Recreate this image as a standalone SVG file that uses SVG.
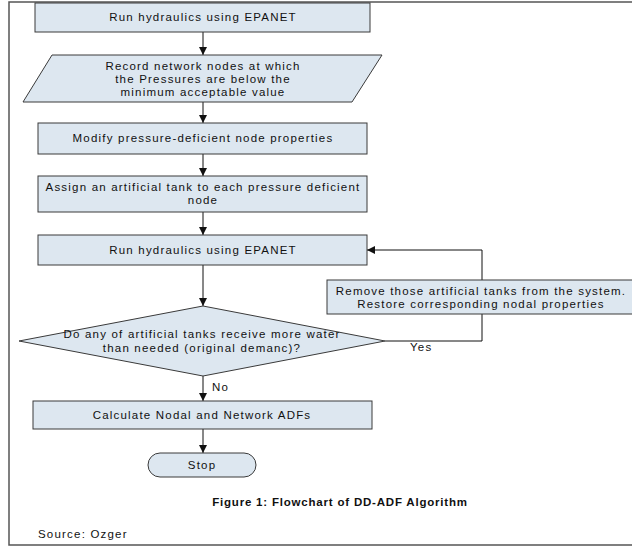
<svg xmlns="http://www.w3.org/2000/svg" width="632" height="548" viewBox="0 0 632 548">
<style>
.n{fill:#dde7f0;stroke:#3a3a3a;stroke-width:1}
.t{font-family:"Liberation Sans",Arial,sans-serif;font-size:11.5px;letter-spacing:1.2px;fill:#111;text-anchor:middle}
.l{font-family:"Liberation Sans",Arial,sans-serif;font-size:11.5px;letter-spacing:1.2px;fill:#111}
.c{fill:none;stroke:#111;stroke-width:1}
</style>
<defs>
<marker id="ah" markerWidth="8" markerHeight="8" refX="8" refY="4" orient="auto" markerUnits="userSpaceOnUse">
<path d="M0,0 L8,4 L0,8 Z" fill="#111"/>
</marker>
</defs>
<rect x="9" y="2" width="640" height="543" fill="#fff" stroke="#555" stroke-width="1.5"/>
<g id="connectors">
<line class="c" x1="203" y1="32" x2="203" y2="55" marker-end="url(#ah)"/>
<line class="c" x1="203" y1="102" x2="203" y2="123" marker-end="url(#ah)"/>
<line class="c" x1="203" y1="154" x2="203" y2="176" marker-end="url(#ah)"/>
<line class="c" x1="203" y1="212" x2="203" y2="235" marker-end="url(#ah)"/>
<line class="c" x1="203" y1="265" x2="203" y2="306" marker-end="url(#ah)"/>
<polyline class="c" points="385,341 482,341 482,250 367,250" marker-end="url(#ah)"/>
<line class="c" x1="203" y1="376" x2="203" y2="401" marker-end="url(#ah)"/>
<line class="c" x1="203" y1="429" x2="203" y2="453" marker-end="url(#ah)"/>
<text class="l" x="410" y="351">Yes</text>
<text class="l" x="212" y="391">No</text>
</g>
<g id="run1">
<rect class="n" x="35" y="3" width="335" height="29"/>
<text class="t" x="203" y="21">Run hydraulics using EPANET</text>
</g>
<g id="record">
<polygon class="n" points="52,55 382,55 352,102 23,102"/>
<text class="t" x="203" y="69.5">Record network nodes at which</text>
<text class="t" x="203" y="82.8">the Pressures are below the</text>
<text class="t" x="203" y="96.1">minimum acceptable value</text>
</g>
<g id="modify">
<rect class="n" x="38" y="123" width="329" height="31"/>
<text class="t" x="203" y="142">Modify pressure-deficient node properties</text>
</g>
<g id="assign">
<rect class="n" x="38" y="176" width="329" height="36"/>
<text class="t" x="203" y="190.5">Assign an artificial tank to each pressure deficient</text>
<text class="t" x="203" y="203.8">node</text>
</g>
<g id="run2">
<rect class="n" x="38" y="235" width="329" height="30"/>
<text class="t" x="203" y="253.5">Run hydraulics using EPANET</text>
</g>
<g id="decision">
<polygon class="n" points="203,306 385,341 203,376 19,341"/>
<text class="t" x="202" y="337.5">Do any of artificial tanks receive more water</text>
<text class="t" x="202" y="351.5">than needed (original demanc)?</text>
</g>
<g id="remove">
<rect class="n" x="327" y="280" width="310" height="34"/>
<text class="t" x="481" y="294.5">Remove those artificial tanks from the system.</text>
<text class="t" x="481" y="307.8">Restore corresponding nodal properties</text>
</g>
<g id="calc">
<rect class="n" x="33" y="401" width="339" height="28"/>
<text class="t" x="202" y="419">Calculate Nodal and Network ADFs</text>
</g>
<g id="stop">
<rect class="n" x="148" y="453" width="108" height="24" rx="12" ry="12"/>
<text class="t" x="202" y="469">Stop</text>
</g>
<text x="340" y="506" style="font-family:'Liberation Sans',Arial,sans-serif;font-size:11.5px;font-weight:bold;letter-spacing:0.8px;fill:#111;text-anchor:middle">Figure 1: Flowchart of DD-ADF Algorithm</text>
<text class="l" x="38" y="538">Source: Ozger</text>
</svg>
